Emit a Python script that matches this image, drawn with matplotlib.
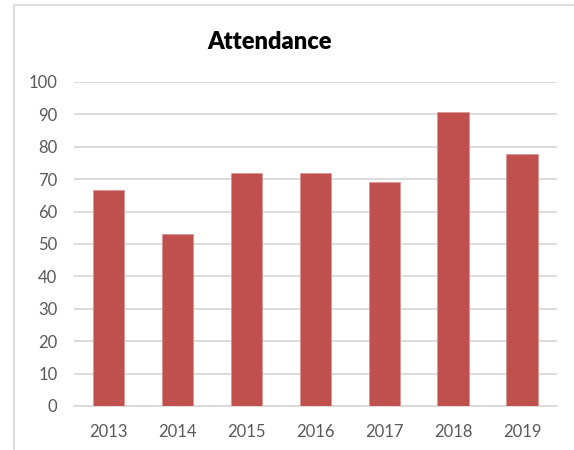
import matplotlib.pyplot as plt
from matplotlib.patches import Rectangle

years = ['2013', '2014', '2015', '2016', '2017', '2018', '2019']
attendance = [66.5, 53, 72, 72, 69, 90.6, 77.7]
yticks = [0, 10, 20, 30, 40, 50, 60, 70, 80, 90, 100]

plt.rcParams['font.family'] = ['Lato', 'DejaVu Sans']

fig = plt.figure(figsize=(5.74, 4.5), dpi=100)
ax = fig.add_axes([0.129, 0.098, 0.841, 0.72])

# outer chart border
fig.patches.append(Rectangle((14/574, -0.01), 1.0, 1 - 5/450 + 0.01, transform=fig.transFigure,
                             fill=False, edgecolor='#D9D9D9', lw=1.2))

ax.bar(range(len(years)), attendance, width=0.46, color='#C0504D',
       edgecolor='#D99694', linewidth=0.6, zorder=3)

ax.set_xlim(-0.5, len(years) - 0.5)
ax.set_ylim(0, 100)
ax.set_yticks(yticks)
ax.set_xticks(range(len(years)))
ax.set_xticklabels(years)
ax.yaxis.grid(True, color='#D9D9D9', lw=1.3, zorder=0)
ax.tick_params(axis='both', length=0, labelsize=12, colors='#595959')
ax.tick_params(axis='y', pad=12)
ax.tick_params(axis='x', pad=13)
for s in ax.spines.values():
    s.set_visible(False)
ax.spines['bottom'].set_visible(True)
ax.spines['bottom'].set_color('#D9D9D9')
ax.spines['bottom'].set_linewidth(1.3)

fig.text(0.47, 0.907, 'Attendance', ha='center', va='center',
         fontsize=17, fontweight='heavy', color='black')

fig.savefig('out.png', dpi=100)
